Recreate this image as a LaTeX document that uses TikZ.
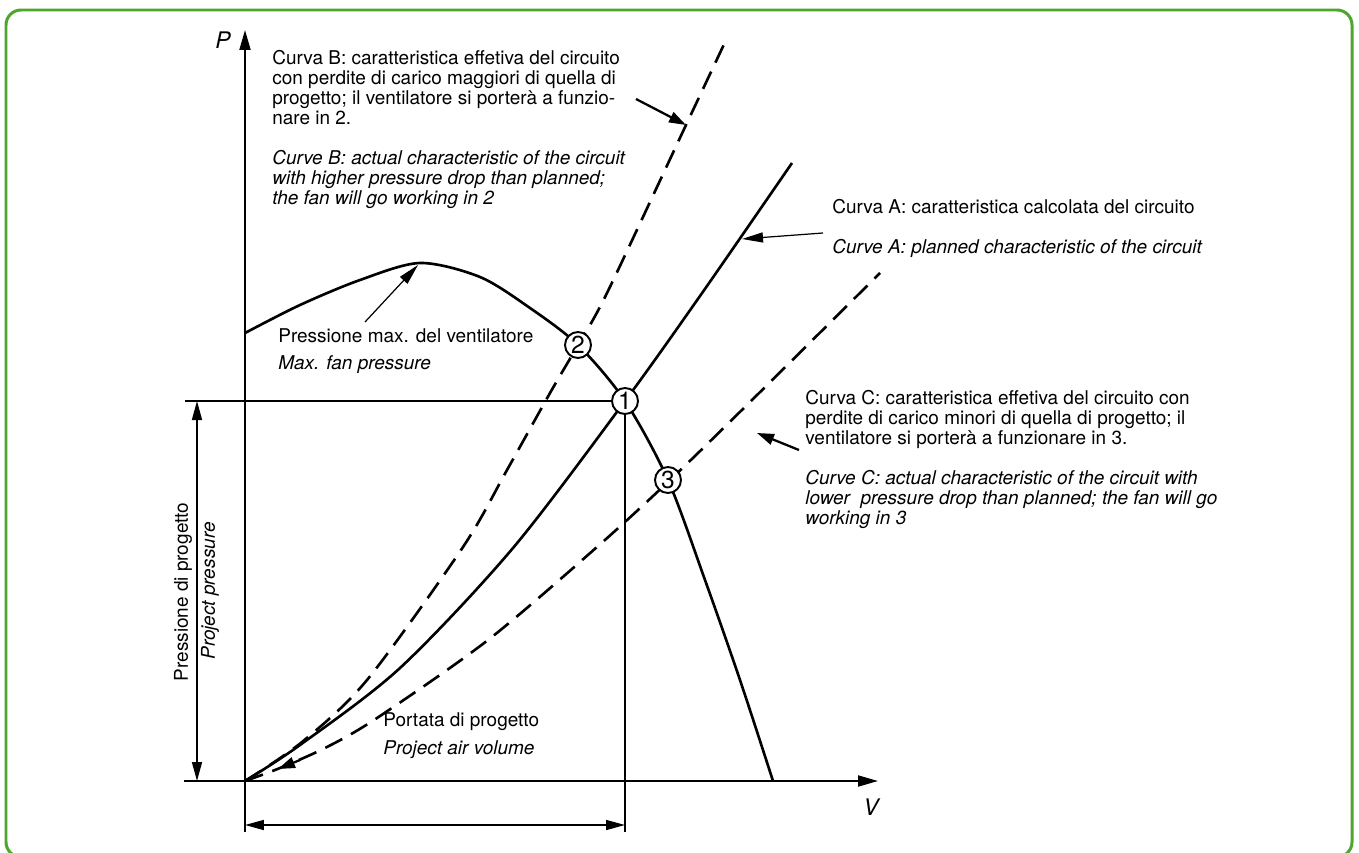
\documentclass[tikz,border=0pt]{standalone}
\usepackage{fontspec}
\setmainfont{TeX Gyre Heros}
\usetikzlibrary{arrows.meta}
\definecolor{framegreen}{RGB}{80,165,45}
\newcommand{\fs}{\fontsize{10.8}{11.38}\selectfont}
\tikzset{
  lbl/.style={anchor=base west,align=left,inner sep=0pt,font=\fs},
  ilbl/.style={lbl,font=\fs\itshape},
  blk/.style={lbl,anchor=north west},
  iblk/.style={ilbl,anchor=north west},
  curve/.style={line width=1.5pt},
  dcurve/.style={curve,dash pattern=on 0.38cm off 0.2cm},
  thin/.style={line width=0.9pt},
  opnt/.style={circle,draw,fill=white,line width=1.1pt,minimum size=0.52cm,inner sep=0pt,font=\fontsize{14}{14}\selectfont},
  axis/.style={line width=1.1pt,-{Triangle[length=0.4cm,width=0.22cm]}},
  dim/.style={thin,{Triangle[length=0.38cm,width=0.2cm]}-{Triangle[length=0.38cm,width=0.2cm]}},
  thinptr/.style={line width=0.7pt,-{Triangle[length=0.42cm,width=0.2cm]}},
  thickptr/.style={line width=1.3pt,-{Triangle[length=0.34cm,width=0.22cm]}}
}

\begin{document}
\begin{tikzpicture}[x=0.02cm,y=-0.02cm]
        \useasboundingbox (0,0) rectangle (1359,852);
        \draw[framegreen,line width=0.06cm,rounded corners=0.3cm] (6,10) rectangle (1352,857);
        \coordinate(o) at (245,781);
        \coordinate(ytop) at (245,30);
        \coordinate(ybot) at (245,832);
        \coordinate(xl) at (184,781);
        \coordinate(xr) at (878,781);
        \draw[axis](ybot)--(ytop);
        \draw[axis](xl)--(xr);
        \draw[curve] plot[smooth] coordinates {(245,333) (300,305) (360,280) (420,263) (480,277) (530,308) (578,345) (625,401) (668,480) (705,580) (740,680) (773,781)};
        \draw[curve] plot[smooth] coordinates {(o) (300,745) (400,668) (513,548) (625,401) (700,296) (792,163)};
        \draw[dcurve] plot[smooth] coordinates {(o) (302,742) (367,680) (463,547) (507,470) (550,393) (578,345) (607,293) (686,125) (727,38)};
        \draw[dcurve] plot[smooth] coordinates {(o) (280,768) (327,747) (377,718) (488,640) (597,547) (669,481) (750,402) (880,273)};
        \node[opnt](p1) at (625,401) {1};
        \node[opnt](p2) at (578,345) {2};
        \node[opnt](p3) at (668,480) {3};
        \coordinate(hl) at (185,401);
        \coordinate(vb) at (625,832);
        \draw[thin](hl)--(p1);
        \draw[thin](p1)--(vb);
        \coordinate(dt) at (197,401);
        \coordinate(db) at (197,781);
        \coordinate(dl) at (245,825);
        \coordinate(dr) at (625,825);
        \draw[dim](dt)--(db);
        \draw[dim](dl)--(dr);
        \node[font=\fontsize{13}{13}\selectfont\itshape](plbl) at (223,40) {P};
        \node[font=\fontsize{13}{13}\selectfont\itshape](vlbl) at (871,807) {V};
        \node[blk](bita) at (272,50) {Curva B: caratteristica effetiva del circuito\\con perdite di carico maggiori di quella di\\progetto; il ventilatore si porterà a funzio-\\nare in 2.};
        \node[iblk](beng) at (272,150) {Curve B: actual characteristic of the circuit\\with higher pressure drop than planned;\\the fan will go working in 2};
        \node[lbl](aita) at (832,213) {Curva A: caratteristica calcolata del circuito};
        \node[ilbl](aeng) at (832,253) {Curve A: planned characteristic of the circuit};
        \node[blk](cita) at (805,390) {Curva C: caratteristica effetiva del circuito con\\perdite di carico minori di quella di progetto; il\\ventilatore si porterà a funzionare in 3.};
        \node[iblk](ceng) at (805,470) {Curve C: actual characteristic of the circuit with\\lower\ \ pressure drop than planned; the fan will go\\working in 3};
        \node[lbl](pmax) at (278,342) {Pressione max. del ventilatore};
        \node[ilbl](pmaxeng) at (278,369) {Max. fan pressure};
        \node[lbl](port) at (383,726) {Portata di progetto};
        \node[ilbl](porteng) at (383,754) {Project air volume};
        \node[rotate=90,font=\fs](prog) at (183,592) {Pressione di progetto};
        \node[rotate=90,font=\fs\itshape](progeng) at (210,591) {Project pressure};
        \coordinate(bs) at (636,99);
        \coordinate(bt) at (686,125);
        \coordinate(as) at (823,233);
        \coordinate(at) at (742,239);
        \coordinate(cs) at (799,450);
        \coordinate(ct) at (757,433);
        \coordinate(ms) at (365,322);
        \coordinate(mt) at (418,265);
        \coordinate(os) at (300,760);
        \coordinate(ot) at (278,769);
        \draw[thickptr](bs)--(bt);
        \draw[thinptr](as)--(at);
        \draw[thickptr](cs)--(ct);
        \draw[thinptr](ms)--(mt);
        \draw[thickptr](os)--(ot);
        \end{tikzpicture}
\end{document}
